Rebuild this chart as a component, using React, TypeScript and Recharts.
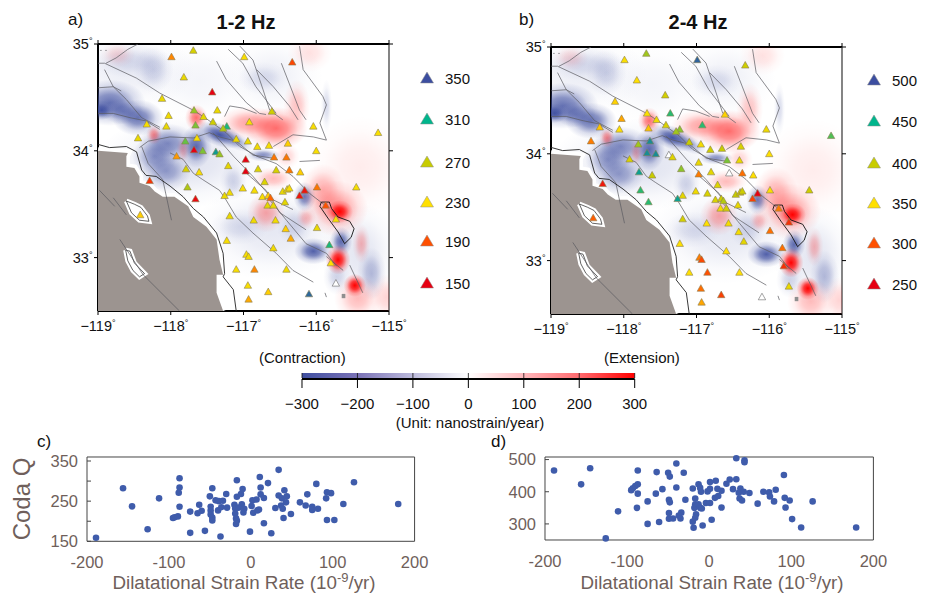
import React from 'react';
import { ScatterChart, Scatter, XAxis, YAxis } from 'recharts';

const FONT = '"Liberation Sans", Arial, sans-serif';
const BROWN = '#6f5f5b';

// ---- stations: longitude, latitude, coda Q in each band
const stationLon = [-117.99,-117.69,-116.99,-116.33,-117.82,-117.43,-118.12,-117.68,-117.36,-116.61,-118.03,-117.55,-117.42,-117.66,-117.23,-117.28,-118.33,-118.06,-116.92,-116.04,-115.15,-118.45,-117.64,-117.80,-117.10,-116.94,-116.39,-116.81,-116.65,-117.56,-117.68,-117.38,-117.33,-116.00,-117.92,-116.97,-116.58,-116.41,-117.21,-117.79,-117.61,-116.80,-116.55,-116.37,-116.97,-116.22,-118.29,-116.71,-117.77,-117.66,-117.01,-117.19,-117.26,-116.85,-116.74,-116.66,-116.63,-116.46,-116.40,-116.37,-116.43,-116.67,-116.59,-116.23,-116.16,-115.99,-115.45,-115.87,-118.42,-117.19,-116.86,-116.56,-116.42,-115.99,-115.73,-116.35,-117.23,-116.59,-115.82,-116.96,-116.93,-115.80,-117.10,-116.85,-116.41,-116.94,-115.73,-116.66,-116.10,-116.93];
const stationLat = [34.88,34.94,34.88,34.83,34.69,34.55,34.49,34.38,34.38,34.37,34.33,34.32,34.27,34.24,34.23,34.21,34.25,34.23,34.27,34.23,34.17,34.12,34.12,34.09,34.11,34.09,34.07,34.04,34.05,34.00,34.01,33.99,33.97,34.00,33.95,33.92,33.94,33.94,33.86,33.83,33.80,33.83,33.82,33.82,33.81,33.80,33.72,33.71,33.66,33.55,33.65,33.61,33.58,33.63,33.57,33.58,33.56,33.62,33.64,33.65,33.52,33.49,33.49,33.58,33.63,33.66,33.66,33.49,33.40,33.39,33.35,33.35,33.27,33.28,33.36,33.18,33.16,33.09,33.12,33.03,33.01,32.95,32.89,32.89,32.89,32.74,32.76,32.68,32.66,32.61];
const q12 = [205,260,235,185,245,150,245,280,245,265,240,250,265,285,305,275,235,245,235,235,235,245,235,290,245,245,225,240,235,285,150,320,280,235,210,150,200,200,250,260,235,255,260,200,150,225,175,255,275,155,235,240,245,235,235,225,195,245,235,235,250,250,245,160,160,200,235,190,225,245,240,240,225,245,235,215,235,240,305,235,240,230,235,205,240,235,null,225,340,215];
const q24 = [355,410,490,395,350,390,345,355,440,345,330,365,385,340,415,410,340,350,440,365,430,315,470,410,400,360,385,395,400,470,470,null,380,350,385,370,420,370,415,460,400,375,null,310,315,350,265,380,440,440,365,375,460,385,385,395,405,400,385,395,370,360,390,290,250,355,395,315,305,390,350,360,360,310,280,375,350,350,310,315,295,280,350,300,350,310,370,290,null,330];

// ---- legends
const legend12 = [350,310,270,230,190,150];
const legend24 = [500,450,400,350,300,250];
const triangleColors = ['#3c4ea0','#00b58c','#c8cc00','#ffe000','#ff5000','#e60012'];

// ---- strain-rate field, as smooth patches: lon, lat, radius lon, radius lat, rotation, nanostrain/yr
const fieldPatches: number[][] = [
  [-118.60,34.75,.60,.25,0,-30],[-117.60,34.65,.50,.25,0,-18],[-116.60,34.70,.45,.25,0,-25],[-117.80,33.90,.80,.28,0,-50],[-116.60,33.25,.70,.30,0,-40],[-115.40,33.05,.35,.30,0,-45],
  [-118.84,34.45,.32,.14,0,-240],[-118.95,34.38,.11,.06,0,-290],[-118.45,34.31,.23,.11,0,-240],[-118.66,34.37,.18,.08,0,-170],
  [-118.24,34.76,.18,.14,0,-70],[-118.56,34.84,.34,.10,0,-50],[-118.04,34.07,.26,.12,0,-190],[-118.22,33.95,.20,.12,0,-170],
  [-118.06,33.81,.22,.12,0,-160],[-117.65,34.04,.14,.13,0,-250],[-117.33,34.15,.22,.07,20,-290],[-117.10,34.09,.16,.05,25,-140],
  [-116.73,33.96,.15,.04,0,-190],[-116.16,33.57,.10,.09,0,-230],[-116.04,33.06,.17,.08,0,-270],[-115.66,33.15,.10,.09,0,-250],
  [-115.24,32.85,.13,.16,0,-110],[-116.73,34.68,.22,.10,0,-50],[-117.14,33.71,.12,.11,0,-70],[-117.05,33.29,.26,.11,0,-50],
  [-116.30,33.30,.16,.12,0,-60],[-115.72,32.82,.12,.11,0,-70],[-115.86,34.42,.05,.16,0,-60],
  [-115.40,33.85,.46,.31,0,22],[-116.55,34.21,.28,.13,0,170],[-116.92,34.26,.28,.10,0,110],[-116.27,34.42,.12,.16,0,70],
  [-117.65,34.31,.10,.08,0,170],[-118.23,34.15,.07,.06,0,130],[-115.72,33.46,.28,.17,0,120],[-115.91,33.63,.20,.16,0,90],
  [-115.68,33.43,.12,.07,0,300],[-115.70,32.98,.11,.09,0,300],[-115.47,32.74,.10,.07,0,300],[-115.43,32.62,.21,.14,0,80],
  [-116.69,33.42,.17,.12,0,100],[-116.14,33.37,.09,.07,0,80],[-116.59,33.74,.19,.07,0,80],[-115.38,33.13,.08,.12,0,80],
  [-118.73,34.90,.16,.08,0,40],[-116.09,34.92,.20,.12,0,35],[-115.04,32.63,.15,.14,0,50],[-117.83,34.01,.06,.08,0,70],[-116.41,33.95,.12,.08,0,50],
];

// ---- geography (lon, lat)
const ocean: number[][] = [[-119,34.0],[-118.59,33.98],[-118.61,33.95],[-118.61,33.85],[-118.50,33.84],[-118.43,33.76],[-118.43,33.70],[-118.29,33.67],[-118.22,33.62],[-118.11,33.57],[-117.95,33.57],[-117.76,33.48],[-117.69,33.38],[-117.51,33.29],[-117.37,33.17],[-117.33,32.98],[-117.28,32.84],[-117.37,32.84],[-117.37,32.67],[-117.28,32.5],[-119,32.5]];
const oceanEdge: number[][] = ocean.slice(0, 20);
const islands: number[][][] = [
  [[-118.61,33.53],[-118.50,33.50],[-118.41,33.47],[-118.32,33.39],[-118.30,33.34],[-118.43,33.35],[-118.54,33.42]],
  [[-118.62,33.07],[-118.56,33.06],[-118.50,32.95],[-118.36,32.85],[-118.43,32.82],[-118.52,32.88],[-118.59,32.97]],
];
const coast: number[][] = [[-119,34.06],[-118.84,34.03],[-118.61,34.04],[-118.47,33.99],[-118.40,33.82],[-118.34,33.77],[-118.20,33.76],[-118.01,33.67],[-117.83,33.57],[-117.69,33.46],[-117.55,33.38],[-117.37,33.23],[-117.28,33.04],[-117.26,32.85],[-117.28,32.82],[-117.14,32.70],[-117.10,32.5]];
const saltonSea: number[][] = [[-115.93,33.52],[-115.95,33.48],[-115.84,33.37],[-115.70,33.24],[-115.61,33.13],[-115.52,33.19],[-115.48,33.27],[-115.54,33.34],[-115.70,33.38],[-115.79,33.46],[-115.82,33.52],[-115.93,33.52]];
const faults: number[][][] = [
  [[-118.89,34.82],[-118.75,34.87],[-118.59,34.95],[-118.45,35.0]],
  [[-119,34.82],[-118.91,34.82],[-118.47,34.68],[-118.15,34.54],[-117.69,34.38],[-117.53,34.31],[-117.24,34.17],[-117.05,34.04],[-116.82,33.95],[-116.55,33.88],[-116.32,33.76],[-116.09,33.60],[-115.86,33.48]],
  [[-118.91,34.76],[-118.79,34.60],[-118.61,34.48],[-118.40,34.31],[-118.15,34.22]],
  [[-119,34.35],[-118.79,34.35],[-118.56,34.31],[-118.34,34.28],[-118.15,34.20]],
  [[-119,34.59],[-118.79,34.60],[-118.68,34.56]],
  [[-118.43,34.03],[-118.31,34.09],[-118.01,34.13],[-117.69,34.12],[-117.47,34.17],[-117.33,34.13],[-117.10,34.09],[-116.87,33.96],[-116.59,33.93]],
  [[-118.40,34.04],[-118.31,33.88],[-118.11,33.73],[-117.99,33.35]],
  [[-118.01,33.98],[-117.83,33.92],[-117.69,33.79],[-117.56,33.73],[-117.33,33.63],[-117.24,33.54],[-117.10,33.38],[-116.87,33.23],[-116.55,33.04],[-116.32,32.88],[-116.04,32.77]],
  [[-117.42,34.17],[-117.14,33.95],[-116.87,33.76],[-116.59,33.54],[-116.32,33.45]],
  [[-116.96,33.79],[-116.69,33.63],[-116.50,33.42],[-116.14,33.26]],
  [[-116.64,33.54],[-116.41,33.35],[-116.14,33.13],[-115.86,33.04],[-115.72,32.92]],
  [[-115.86,33.01],[-115.63,32.88]],
  [[-115.54,32.93],[-115.36,32.67]],
  [[-115.88,32.67],[-115.86,32.63]],
  [[-116.59,34.04],[-116.32,34.15],[-116.04,34.13],[-115.86,34.10]],
  [[-116.23,34.98],[-116.18,34.76],[-115.91,34.51],[-115.86,34.43],[-115.95,34.26],[-115.86,34.10]],
  [[-117.05,34.98],[-116.87,34.85],[-116.73,34.57],[-116.64,34.38],[-116.46,34.29]],
  [[-117.21,34.95],[-117.01,34.82],[-116.83,34.60],[-116.55,34.35]],
  [[-117.37,34.84],[-117.24,34.67],[-116.96,34.45],[-116.78,34.35],[-116.69,34.34]],
  [[-116.82,34.76],[-116.59,34.60],[-116.37,34.42],[-116.25,34.29]],
  [[-116.48,34.82],[-116.32,34.54],[-116.23,34.38],[-116.14,34.29]],
  [[-117.26,34.32],[-117.19,34.42],[-117.01,34.40],[-116.82,34.35]],
  [[-116.23,33.90],[-115.95,33.91]],
  [[-118.98,33.63],[-118.77,33.48]],
  [[-118.79,33.56],[-118.61,33.40]],
  [[-118.70,33.17],[-118.38,32.84],[-117.88,32.5]],
  [[-118.97,34.94],[-118.95,34.94]],
  [[-118.90,34.94],[-118.88,34.94]],
];
const grayPatch: number[][] = [[-115.65,32.66],[-115.60,32.66],[-115.60,32.62],[-115.65,32.62]];

// ---- colour bar
const barStopValues = [-300,-200,-100,0,100,200,300];
const barStopColors = ['#3f4fa0','#7a72b6','#bdbbdc','#ffffff','#ffb8bc','#ff6a6e','#ff0000'];
const barTicks = [-300,-200,-100,0,100,200,300];

// ---- panel c and d
const cX = [-189,-156,-145,-126,-112,-87,-87,-88,-87,-95,-93,-89,-74,-74,-65,-63,-60,-56,-50,-47,-49,-49,-49,-47,-47,-43,-39,-40,-37,-34,-36,-30,-29,-20,-19,-19,-18,-17,-18,-17,-17,-12,-10,-11,-15,-9,-8,-1,2,1,3,7,8,10,11,12,12,16,16,21,25,30,34,34,38,37,39,41,44,43,40,49,60,67,69,75,75,82,80,92,93,98,93,102,113,126,180];
const cQ = [159,282,237,180,257,307,284,271,236,208,210,212,224,171,220,241,226,176,262,282,236,227,217,209,202,252,250,227,162,251,235,268,234,241,232,219,207,201,193,302,261,268,280,242,234,222,231,174,252,238,221,254,227,229,310,284,267,258,195,295,170,233,328,264,257,239,231,277,262,247,208,218,247,239,267,236,228,231,293,257,272,270,203,203,243,297,243];
const dX = [-189,-156,-145,-111,-126,-87,-95,-93,-90,-87,-87,-88,-75,-75,-64,-65,-57,-61,-50,-48,-49,-48,-49,-49,-44,-40,-40,-29,-31,-34,-37,-35,-20,-17,-17,-18,-16,-17,-20,-19,-13,-11,-10,-13,-11,-9,-8,-4,1,-2,1,1,3,8,7,10,11,15,15,21,25,29,33,33,43,43,38,42,36,37,40,49,59,66,73,74,79,81,91,92,93,98,101,112,126,179];
const dQ = [466,423,473,339,255,466,405,411,418,423,394,350,370,300,461,394,408,306,459,447,375,367,334,316,317,488,413,375,459,335,326,317,410,379,361,350,330,319,307,288,423,412,400,361,350,348,295,365,430,401,409,365,313,434,381,409,387,403,351,425,438,408,439,504,498,492,410,400,397,379,373,396,363,400,398,385,370,406,452,381,351,373,315,289,370,289];
const xTicks = [-200,-100,0,100,200];

const rows = (xs: number[], ys: number[]) => xs.map((x, i) => ({ x, y: ys[i] }));
const polyRows = (pts: number[][]) => pts.map(([x, y]) => ({ x, y }));

function hex(c: string) { return [1, 3, 5].map((i) => parseInt(c.slice(i, i + 2), 16)); }
function qColor(q: number | null, legend: number[]) {
  if (q === null) return '#ffffff';
  for (let i = 0; i < legend.length - 1; i++) {
    if (q <= legend[i] && q >= legend[i + 1]) {
      const t = (legend[i] - q) / (legend[i] - legend[i + 1]);
      const a = hex(triangleColors[i]), b = hex(triangleColors[i + 1]);
      return `rgb(${a.map((v, k) => Math.round(v + (b[k] - v) * t)).join(',')})`;
    }
  }
  return q > legend[0] ? triangleColors[0] : triangleColors[5];
}

const Nothing = () => <g />;

const Triangle = (props: any) => {
  const { cx, cy, payload } = props;
  const w = 3.7, up = 3.7, down = 2.9;
  return <polygon points={`${cx},${cy - up} ${cx + w},${cy + down} ${cx - w},${cy + down}`} fill={payload.color} stroke={payload.q === null ? '#666' : '#8a7d55'} strokeWidth={0.6} />;
};

const Patch = (props: any) => {
  const { cx, cy, payload } = props;
  const rx = payload.rx * 72.75 * 1.55, ry = payload.ry * 107 * 1.55;
  const v = payload.v;
  return <ellipse cx={cx} cy={cy} rx={rx} ry={ry} transform={`rotate(${payload.rot} ${cx} ${cy})`} fill={v < 0 ? 'url(#patchBlue)' : 'url(#patchRed)'} fillOpacity={Math.min(1, Math.abs(v) / 300)} />;
};

const Dot = (props: any) => <circle cx={props.cx} cy={props.cy} r={3.3} fill="#3f5cab" />;
const BarFill = (props: any) => <rect x={props.cx - 166.35} y={props.cy - 3} width={332.7} height={5} fill="url(#barGradient)" />;
const BarTick = (props: any) => <line x1={props.cx} x2={props.cx} y1={props.cy - 3} y2={props.cy + 2} stroke="#111" strokeWidth={0.8} />;

const lonLabel = (v: number) => (v < 0 ? '\u2212' + -v : String(v));

const XTick = (props: any) => {
  const { x, y, payload } = props;
  return <text x={x} y={y + 14} textAnchor="middle" fontFamily={FONT} fontSize={14.5} fill="#111">{lonLabel(payload.value)}<tspan fontSize={9} dy={-5}>°</tspan></text>;
};
const YTick = (props: any) => {
  const { x, y, payload } = props;
  return <text x={x + 0.5} y={y + 5} textAnchor="end" fontFamily={FONT} fontSize={14.5} fill="#111">{payload.value}<tspan fontSize={9} dy={-5}>°</tspan></text>;
};

const lonTicks = [-119,-118,-117,-116,-115];
const latTicks = [33,34,35];
const axisLine = { stroke: '#000', strokeWidth: 2 };
const tickLine = { stroke: '#000', strokeWidth: 1 };

function MapPanel({ L, T, q, legend }: { L: number; T: number; q: (number | null)[]; legend: number[] }) {
  const W = 291, H = 267;
  const stations = stationLon.map((x, i) => ({ x, y: stationLat[i], q: q[i], color: qColor(q[i], legend) }));
  const patches = fieldPatches.map(([x, y, rx, ry, rot, v]) => ({ x, y, rx, ry, rot, v }));
  return (
    <div style={{ position: 'absolute', left: L - 50, top: T - 25 }}>
      <ScatterChart width={W + 100} height={H + 60} margin={{ top: 0, right: 0, bottom: 0, left: 0 }}>
        <XAxis xAxisId={0} dataKey="x" type="number" domain={[-119, -115]} ticks={lonTicks} allowDataOverflow height={35} axisLine={axisLine} tickLine={tickLine} tickSize={4} tick={<XTick />} interval={0} />
        <XAxis xAxisId="top" orientation="top" dataKey="x" type="number" domain={[-119, -115]} ticks={lonTicks} allowDataOverflow height={25} axisLine={axisLine} tickLine={tickLine} tickSize={4} tick={<Nothing />} interval={0} />
        <YAxis yAxisId={0} dataKey="y" type="number" domain={[32.5, 35]} ticks={latTicks} allowDataOverflow width={50} axisLine={axisLine} tickLine={tickLine} tickSize={4} tick={<YTick />} interval={0} />
        <YAxis yAxisId="right" orientation="right" dataKey="y" type="number" domain={[32.5, 35]} ticks={latTicks} allowDataOverflow width={50} axisLine={{ stroke: '#333', strokeWidth: 1.2 }} tickLine={tickLine} tickSize={4} tick={<Nothing />} interval={0} />
        <Scatter data={patches} shape={<Patch />} isAnimationActive={false} />
        <Scatter data={polyRows(oceanEdge)} shape={<Nothing />} line={{ fill: 'none', stroke: '#ffffff', strokeWidth: 7 }} isAnimationActive={false} />
        <Scatter data={polyRows(ocean)} shape={<Nothing />} line={{ fill: '#9c9490', stroke: 'none' }} isAnimationActive={false} />
        <Scatter data={polyRows(grayPatch)} shape={<Nothing />} line={{ fill: '#8f8f8f', stroke: 'none' }} isAnimationActive={false} />
        {islands.map((isl, i) => (
          <Scatter key={`h${i}`} data={polyRows([...isl, isl[0]])} shape={<Nothing />} line={{ fill: '#ffffff', stroke: '#ffffff', strokeWidth: 5 }} isAnimationActive={false} />
        ))}
        {islands.map((isl, i) => (
          <Scatter key={`o${i}`} data={polyRows([...isl, isl[0]])} shape={<Nothing />} line={{ fill: '#ffffff', stroke: '#222', strokeWidth: 0.7 }} isAnimationActive={false} />
        ))}
        {faults.map((f, i) => (
          <Scatter key={i} data={polyRows(f)} shape={<Nothing />} line={{ stroke: '#5a5a60', strokeWidth: 0.7, fill: 'none' }} isAnimationActive={false} />
        ))}
        <Scatter data={polyRows(coast)} shape={<Nothing />} line={{ stroke: '#222', strokeWidth: 0.9, fill: 'none' }} isAnimationActive={false} />
        <Scatter data={polyRows(saltonSea)} shape={<Nothing />} line={{ stroke: '#111', strokeWidth: 0.9, fill: 'none' }} isAnimationActive={false} />
        <Scatter data={stations} shape={<Triangle />} isAnimationActive={false} />
      </ScatterChart>
    </div>
  );
}

function StrainPanel({ L, T, W, H, xs, ys, yDomain, yTicks, yShown }: any) {
  const line = { stroke: '#444', strokeWidth: 1 };
  const axisFont = { fill: BROWN, fontSize: 16.5, fontFamily: FONT };
  return (
    <div style={{ position: 'absolute', left: L - 50, top: T - 12 }}>
      <ScatterChart width={W + 100} height={H + 52} margin={{ top: 0, right: 0, bottom: 0, left: 0 }}>
        <XAxis xAxisId={0} dataKey="x" type="number" domain={[-200, 200]} ticks={xTicks} height={40} axisLine={line} tickLine={false} tick={axisFont} tickMargin={9} interval={0} />
        <XAxis xAxisId="top" orientation="top" dataKey="x" type="number" domain={[-200, 200]} ticks={xTicks} height={12} axisLine={line} tickLine={false} tick={<Nothing />} />
        <YAxis yAxisId={0} dataKey="y" type="number" domain={yDomain} ticks={yTicks} width={50} axisLine={line} tickLine={line} tickSize={-4} tickMargin={13} tick={axisFont} tickFormatter={(v: number) => (yShown.includes(v) ? String(v) : '')} interval={0} />
        <YAxis yAxisId="right" orientation="right" dataKey="y" type="number" domain={yDomain} ticks={yTicks} width={50} axisLine={line} tickLine={line} tickSize={-4} tick={<Nothing />} interval={0} />
        <Scatter data={rows(xs, ys)} shape={<Dot />} isAnimationActive={false} />
      </ScatterChart>
    </div>
  );
}

function ColorBar() {
  const L = 302.3, W = 332.7;
  const anchors = barTicks.map((x) => ({ x, y: 0.5 }));
  return (
    <div style={{ position: 'absolute', left: L - 20, top: 372.5 }}>
      <ScatterChart width={W + 40} height={48} margin={{ top: 0, right: 20, bottom: 0, left: 20 }}>
        <XAxis dataKey="x" type="number" domain={[-300, 300]} ticks={barTicks} height={42} axisLine={{ stroke: '#000', strokeWidth: 2 }} tickLine={{ stroke: '#000', strokeWidth: 1 }} tickSize={9} tickMargin={10} tick={{ fill: '#111', fontSize: 15, fontFamily: FONT }} tickFormatter={lonLabel} interval={0} />
        <YAxis dataKey="y" type="number" domain={[0, 1]} hide />
        <Scatter data={[{ x: 0, y: 0.5 }]} shape={<BarFill />} isAnimationActive={false} />
        <Scatter data={anchors} shape={<BarTick />} isAnimationActive={false} />
      </ScatterChart>
    </div>
  );
}

function Legend({ x, ys, values }: { x: number; ys: number[]; values: number[] }) {
  return (
    <g>
      {values.map((v, i) => (
        <g key={v}>
          <polygon points={`${x},${ys[i] - 6} ${x + 6.5},${ys[i] + 5} ${x - 6.5},${ys[i] + 5}`} fill={triangleColors[i]} stroke="#8f8f8f" strokeWidth={0.5} />
          <text x={x + 18} y={ys[i] + 5.5} fontFamily={FONT} fontSize={15} fill="#111">{v}</text>
        </g>
      ))}
    </g>
  );
}

const T = (p: any) => <text fontFamily={FONT} fill="#111" {...p} />;

export default function App() {
  return (
    <div style={{ position: 'absolute', left: 0, top: 0, width: 925, height: 595, background: '#fff', overflow: 'hidden' }}>
      <MapPanel L={98.3} T={44.3} q={q12} legend={legend12} />
      <MapPanel L={551.3} T={46.7} q={q24} legend={legend24} />
      <ColorBar />
      <StrainPanel L={86.7} T={456.7} W={327.6} H={84.3} xs={cX} ys={cQ} yDomain={[150, 360]} yTicks={[150, 200, 250, 300, 350]} yShown={[150, 250, 350]} />
      <StrainPanel L={545.3} T={457.3} W={328.4} H={83} xs={dX} ys={dQ} yDomain={[250, 508]} yTicks={[300, 400, 500]} yShown={[300, 400, 500]} />
      <svg width={925} height={595} style={{ position: 'absolute', left: 0, top: 0, pointerEvents: 'none' }}>
        <defs>
          <radialGradient id="patchBlue">
            <stop offset="0%" stopColor="#3f4fa0" stopOpacity={1} />
            <stop offset="35%" stopColor="#3f4fa0" stopOpacity={0.75} />
            <stop offset="70%" stopColor="#3f4fa0" stopOpacity={0.22} />
            <stop offset="100%" stopColor="#3f4fa0" stopOpacity={0} />
          </radialGradient>
          <radialGradient id="patchRed">
            <stop offset="0%" stopColor="#ff0000" stopOpacity={1} />
            <stop offset="35%" stopColor="#ff0000" stopOpacity={0.75} />
            <stop offset="70%" stopColor="#ff0000" stopOpacity={0.22} />
            <stop offset="100%" stopColor="#ff0000" stopOpacity={0} />
          </radialGradient>
          <linearGradient id="barGradient" x1="0" x2="1" y1="0" y2="0">
            {barStopValues.map((v, i) => (
              <stop key={v} offset={`${((v + 300) / 600) * 100}%`} stopColor={barStopColors[i]} />
            ))}
          </linearGradient>
        </defs>
        <T x={68} y={25} fontSize={17}>a)</T>
        <T x={246} y={29} fontSize={20} fontWeight="bold" textAnchor="middle">1-2 Hz</T>
        <T x={519} y={25} fontSize={17}>b)</T>
        <T x={698} y={29} fontSize={20} fontWeight="bold" textAnchor="middle">2-4 Hz</T>
        <Legend x={427} ys={[78, 119, 162, 202, 241, 283]} values={legend12} />
        <Legend x={874} ys={[80, 121, 163, 203, 243, 284]} values={legend24} />
        <T x={259} y={363} fontSize={15}>(Contraction)</T>
        <T x={604} y={363} fontSize={15}>(Extension)</T>
        <T x={470} y={428} fontSize={15} textAnchor="middle">(Unit: nanostrain/year)</T>
        <T x={37} y={447} fontSize={17}>c)</T>
        <T x={491} y={447} fontSize={17}>d)</T>
        <text x={0} y={0} transform="translate(30 499) rotate(-90)" fontFamily={FONT} fontSize={24} fill={BROWN} textAnchor="middle">Coda Q</text>
        <text x={244} y={589} fontFamily={FONT} fontSize={18.8} fill={BROWN} textAnchor="middle">Dilatational Strain Rate (10<tspan fontSize={13} dy={-7}>-9</tspan><tspan dy={7}>/yr)</tspan></text>
        <text x={712} y={589} fontFamily={FONT} fontSize={18.8} fill={BROWN} textAnchor="middle">Dilatational Strain Rate (10<tspan fontSize={13} dy={-7}>-9</tspan><tspan dy={7}>/yr)</tspan></text>
      </svg>
    </div>
  );
}
